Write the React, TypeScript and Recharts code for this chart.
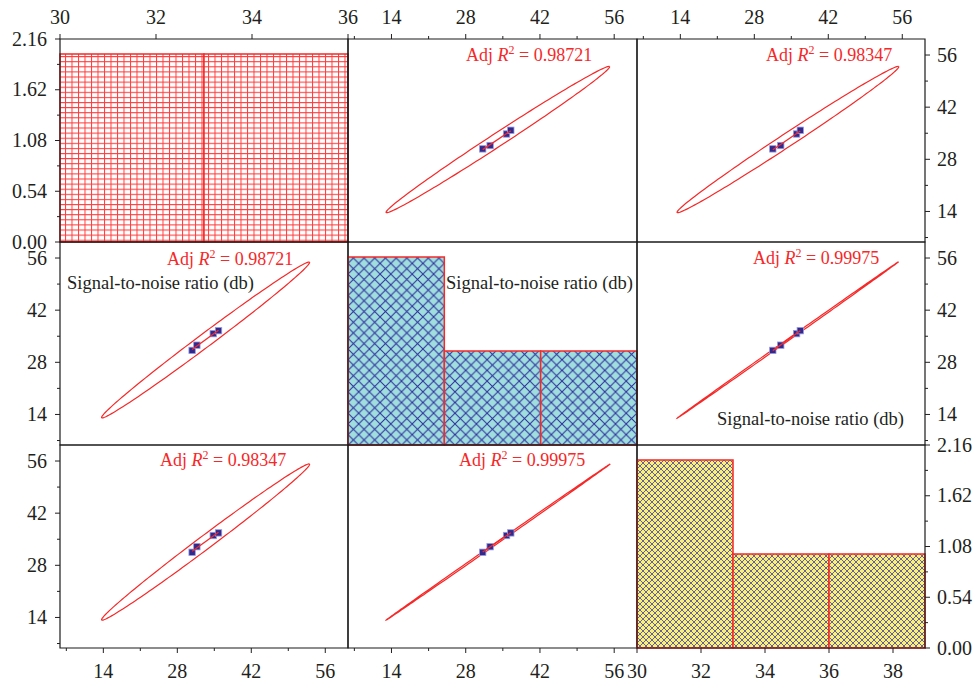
import React from 'react'
import { ScatterChart, Scatter, XAxis, YAxis, ReferenceArea } from 'recharts'

// signal-to-noise ratio (db) of the three responses, four runs each
const snrA = [30.8, 31.7, 34.8, 35.8]
const snrB = [31.2, 32.6, 35.7, 36.5]
const snrC = [31.5, 33.0, 36.0, 36.7]
const variables = [snrA, snrB, snrC]

// histogram bins on the diagonal
const edgesA = [30, 33, 36]
const countsA = [2, 2]
const edgesB = [30, 33, 36, 39]
const countsB = [2, 1, 1]
const edgesC = [30, 33, 36, 39]
const countsC = [2, 1, 1]

const adjR2: Record<string, string> = { '0-1': '0.98721', '0-2': '0.98347', '1-2': '0.99975' }

// confidence ellipse tips [x1, y1, x2, y2] and half width, keyed row-col
const ellipseTips: Record<string, number[]> = {
  '0-1': [13.0, 13.7, 55.1, 52.9],
  '0-2': [13.4, 13.7, 55.3, 52.9],
  '1-0': [13.7, 13.1, 53.0, 54.9],
  '1-2': [13.4, 13.0, 55.3, 55.0],
  '2-0': [13.7, 13.3, 53.0, 55.2],
  '2-1': [13.0, 13.3, 55.25, 55.2],
}
const ellipseHalfWidth: Record<string, number> = {
  '0-1': 1.55, '0-2': 1.55, '1-0': 1.55, '1-2': 0.2, '2-0': 1.55, '2-1': 0.2,
}

const snrTicks = [7, 14, 21, 28, 35, 42, 49, 56]
const snrMajor = [14, 28, 42, 56]
const countTicks = [0, 0.27, 0.54, 0.81, 1.08, 1.35, 1.62, 1.89, 2.16]
const countMajor = [0, 0.54, 1.08, 1.62, 2.16]
const ticksA = [30, 32, 34, 36]
const ticksC = [30, 32, 34, 36, 38]

const snrDomain: [number, number] = [5.8, 60.3]
const colX = [60, 348, 637, 925]
const rowY = [39, 242, 445, 648]
const RED = '#f62828'
const INK = '#231f20'
const FONT = '"Liberation Serif", "DejaVu Serif", serif'

const r2Pos: Record<string, number[]> = {
  '0-1': [466, 61], '0-2': [766, 61], '1-0': [167, 265],
  '1-2': [753, 264], '2-0': [160, 466], '2-1': [459, 466],
}
const snrLabelPos = [[67, 289], [446, 289], [717, 425]]

const Empty = () => <g />

const Square = (p: any) => (
  <rect x={p.cx - 3.2} y={p.cy - 3.2} width={6.4} height={6.4} fill="#2f2a8c" stroke="#9c9ae0" strokeWidth={0.8} />
)

function ellipseOutline(tips: number[], w: number) {
  const [x1, y1, x2, y2] = tips
  const cx = (x1 + x2) / 2, cy = (y1 + y2) / 2
  const ux = (x2 - x1) / 2, uy = (y2 - y1) / 2
  const len = Math.hypot(ux, uy)
  const vx = (-uy / len) * w, vy = (ux / len) * w
  return Array.from({ length: 181 }, (_, i) => {
    const t = (i / 180) * 2 * Math.PI
    return { x: cx + ux * Math.cos(t) + vx * Math.sin(t), y: cy + uy * Math.cos(t) + vy * Math.sin(t) }
  })
}

function AxisTick(props: any) {
  const { x, y, payload, side, majors, digits } = props
  const v = payload.value
  const major = majors.some((m: number) => Math.abs(m - v) < 1e-6)
  const len = major ? 5 : 3
  const text = major ? v.toFixed(digits) : ''
  const style = { fontFamily: FONT, fontSize: 20, fill: INK }
  if (side === 'left')
    return (
      <g>
        <line x1={x - len} x2={x} y1={y} y2={y} stroke={INK} />
        <text x={x - 13} y={y + 6.5} textAnchor="end" {...style}>{text}</text>
      </g>
    )
  if (side === 'right')
    return (
      <g>
        <line x1={x} x2={x + len} y1={y} y2={y} stroke={INK} />
        <text x={x + 12} y={y + 6.5} textAnchor="start" {...style}>{text}</text>
      </g>
    )
  if (side === 'top')
    return (
      <g>
        <line x1={x} x2={x} y1={y - len} y2={y} stroke={INK} />
        <text x={x} y={y - 15} textAnchor="middle" {...style}>{text}</text>
      </g>
    )
  return (
    <g>
      <line x1={x} x2={x} y1={y} y2={y + len} stroke={INK} />
      <text x={x} y={y + 30} textAnchor="middle" {...style}>{text}</text>
    </g>
  )
}

function Panel({ r, c }: { r: number; c: number }) {
  const L = c === 0 ? 60 : 0
  const R = c === 2 ? 53 : 0
  const T = r === 0 ? 39 : 0
  const B = r === 2 ? 38 : 0
  const pw = colX[c + 1] - colX[c]
  const ph = rowY[r + 1] - rowY[r]
  const diag = r === c
  const key = `${r}-${c}`

  const xDom: [number, number] = diag ? (r === 0 ? [30, 36] : [30, 39]) : snrDomain
  const yDom: [number, number] = diag ? [0, 2.16] : snrDomain
  const xTicks = diag ? (r === 0 ? ticksA : ticksC) : snrTicks
  const xMajor = diag ? xTicks : snrMajor
  const yTicks = diag ? countTicks : snrTicks
  const yMajor = diag ? countMajor : snrMajor
  const yDigits = diag ? 2 : 0

  const xSide = r === 0 ? 'top' : 'bottom'
  const ySide = c === 0 ? 'left' : 'right'

  const edges = [edgesA, edgesB, edgesC][r]
  const counts = [countsA, countsB, countsC][r]
  const pattern = ['redGrid', 'cyanHatch', 'yellowHatch'][r]

  const pts = diag ? [] : variables[c].map((x, i) => ({ x, y: variables[r][i] }))

  return (
    <div style={{ position: 'absolute', left: colX[c] - L, top: rowY[r] - T }}>
      <ScatterChart
        width={pw + L + R}
        height={ph + T + B}
        margin={{ top: 0, right: 0, bottom: 0, left: 0 }}
        style={{ overflow: 'visible' }}
      >
        <XAxis
          type="number"
          dataKey="x"
          domain={xDom}
          allowDataOverflow
          ticks={xTicks}
          interval={0}
          orientation={xSide}
          hide={r === 1}
          height={r === 0 ? T : B}
          axisLine={false}
          tickLine={false}
          tickSize={0}
          tickMargin={0}
          tick={(p: any) => <AxisTick {...p} side={xSide} majors={xMajor} digits={0} />}
        />
        <YAxis
          type="number"
          dataKey="y"
          domain={yDom}
          allowDataOverflow
          ticks={yTicks}
          interval={0}
          orientation={ySide}
          hide={c === 1}
          width={c === 0 ? L : R}
          axisLine={false}
          tickLine={false}
          tickSize={0}
          tickMargin={0}
          tick={(p: any) => <AxisTick {...p} side={ySide} majors={yMajor} digits={yDigits} />}
        />
        {diag &&
          counts.map((n, i) => (
            <ReferenceArea
              key={i}
              x1={edges[i]}
              x2={edges[i + 1]}
              y1={0}
              y2={n}
              fill={`url(#${pattern})`}
              fillOpacity={1}
              stroke={RED}
              strokeWidth={1.5}
              ifOverflow="visible"
            />
          ))}
        {!diag && (
          <Scatter
            data={ellipseOutline(ellipseTips[key], ellipseHalfWidth[key])}
            shape={Empty}
            line={{ stroke: RED, strokeWidth: 1.2 }}
            isAnimationActive={false}
          />
        )}
        {!diag && <Scatter data={pts} shape={Square} isAnimationActive={false} />}
        {!diag && (
          <Scatter
            data={pts}
            shape={Empty}
            line={{ stroke: RED, strokeWidth: 1.3 }}
            lineType="fitting"
            isAnimationActive={false}
          />
        )}
        <ReferenceArea
          x1={xDom[0]}
          x2={xDom[1]}
          y1={yDom[0]}
          y2={yDom[1]}
          fill="none"
          stroke="#1b1b1b"
          strokeWidth={1.2}
          ifOverflow="visible"
        />
      </ScatterChart>
    </div>
  )
}

export default function App() {
  const cells: number[][] = []
  for (let r = 0; r < 3; r++) for (let c = 0; c < 3; c++) cells.push([r, c])
  return (
    <div style={{ position: 'absolute', left: 0, top: 0, width: 978, height: 686, background: '#fff', fontFamily: FONT }}>
      <style>{'.recharts-surface, .recharts-wrapper { overflow: visible !important; }'}</style>
      <svg width={0} height={0} style={{ position: 'absolute' }}>
        <defs>
          <pattern id="redGrid" width={6.5} height={5.1} patternUnits="userSpaceOnUse">
            <rect width={6.5} height={5.1} fill="#fff" />
            <path d="M0.5 0V5.1M0 0.5H6.5" stroke="#ff3b3b" strokeWidth={1} />
          </pattern>
          <pattern id="cyanHatch" width={10.7} height={10.7} patternUnits="userSpaceOnUse">
            <rect width={10.7} height={10.7} fill="#a0dede" />
            <path d="M0 0L10.7 10.7M10.7 0L0 10.7" stroke="#2b2b9c" strokeWidth={1} />
          </pattern>
          <pattern id="yellowHatch" width={6} height={6} patternUnits="userSpaceOnUse">
            <rect width={6} height={6} fill="#f8f07a" />
            <path d="M0 0L6 6M6 0L0 6" stroke="#3632a2" strokeWidth={0.75} />
          </pattern>
        </defs>
      </svg>
      {cells.map(([r, c]) => (
        <Panel key={`${r}-${c}`} r={r} c={c} />
      ))}
      <svg width={978} height={686} style={{ position: 'absolute', left: 0, top: 0, pointerEvents: 'none' }}>
        {Object.keys(r2Pos).map((k) => {
          const [r, c] = k.split('-').map(Number)
          const pair = `${Math.min(r, c)}-${Math.max(r, c)}`
          const [x, y] = r2Pos[k]
          return (
            <text key={k} x={x} y={y} fill={RED} fontFamily={FONT} fontSize={18}>
              Adj <tspan fontStyle="italic">R</tspan>
              <tspan dy={-7} fontSize={12}>2</tspan>
              <tspan dy={7}> = {adjR2[pair]}</tspan>
            </text>
          )
        })}
        {snrLabelPos.map(([x, y], i) => (
          <text key={i} x={x} y={y} fill={INK} fontFamily={FONT} fontSize={18.5}>
            Signal-to-noise ratio (db)
          </text>
        ))}
      </svg>
    </div>
  )
}
